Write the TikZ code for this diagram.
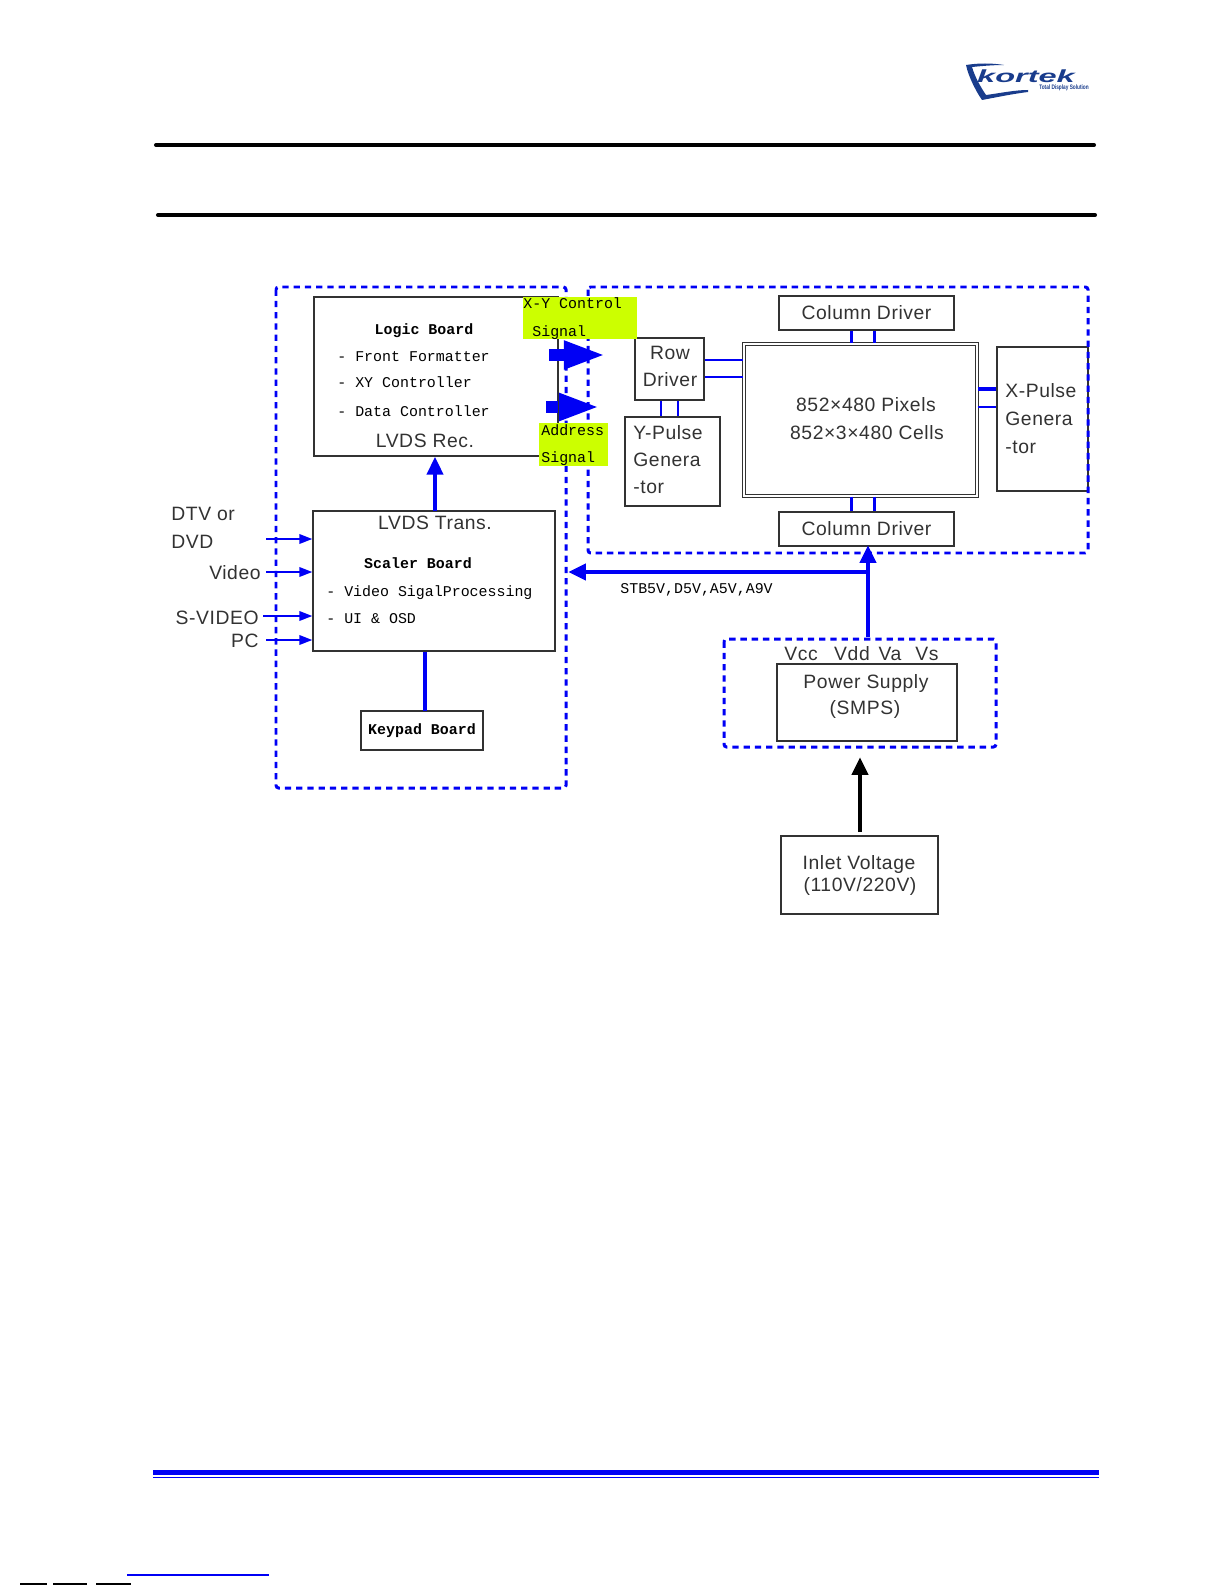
\documentclass[tikz,border=0pt]{standalone}
\usepackage{fontspec}
\usepackage{xcolor}
\usepackage{tikz}
\usetikzlibrary{arrows.meta, positioning}

\newfontfamily\lblfont[LetterSpace=3]{Liberation Sans}
\newfontfamily\monofont{Liberation Mono}
\newfontfamily\logofont{Liberation Sans}

\definecolor{busblue}{RGB}{0,0,245}
\definecolor{sigyellow}{RGB}{204,255,0}
\definecolor{inkgrey}{RGB}{50,50,50}
\definecolor{logoblue}{RGB}{25,60,140}

\tikzset{
    wd/.style={minimum width=#1*0.02cm},
    ht/.style={minimum height=#1*0.02cm},
    blackbox/.style={draw=inkgrey, line width=0.75pt, inner sep=0pt},
    dashbox/.style={draw=busblue, line width=1.7pt, dash pattern=on 3.6pt off 2.8pt, rounded corners=1.5pt},
    lbl/.style={inner sep=0pt, text=inkgrey, text height=7.9pt, text depth=0pt, font=\lblfont\fontsize{11}{13}\selectfont},
    code/.style={inner sep=0pt, text=black, text height=5.6pt, text depth=0pt, font=\monofont\fontsize{8.5}{10}\selectfont},
    codeb/.style={code, font=\monofont\bfseries\fontsize{8.5}{10}\selectfont},
    bus/.style={draw=busblue, line width=1.7pt},
    inarrow/.style={draw=busblue, line width=1.1pt, -{Triangle[length=7.4pt,width=5.4pt]}},
    railarrow/.style={draw=busblue, line width=2.6pt, -{Triangle[length=10.2pt,width=9pt]}},
    blockarrow/.style={draw=busblue, line width=6.8pt, -{Triangle[length=24pt,width=14.7pt]}}
}

\begin{document}
\begin{tikzpicture}[x=0.02cm, y=-0.02cm]
    \useasboundingbox (0,0) rectangle (1225,1585);

    % Draw logo
    \fill[logoblue] (966,65) .. controls (978,63) and (992,63) .. (1004,65)
        .. controls (993,65) and (982,66) .. (972,67)
        .. controls (975,77) and (980,86) .. (986,95)
        .. controls (1001,93) and (1015,90) .. (1028,90) -- (1028,92)
        .. controls (1012,94) and (998,97) .. (982,100)
        .. controls (975,90) and (968,75) .. (966,65) -- cycle;
    \node[inner sep=0pt, text=logoblue] (logoname) at (1026,76)
        {\scalebox{1.85}[1]{\logofont\bfseries\itshape\fontsize{10}{10}\selectfont kortek}};
    \node[inner sep=0pt, text=logoblue] (logotag) at (1064,88)
        {\scalebox{0.73}[1]{\logofont\bfseries\fontsize{3.7}{4}\selectfont Total Display Solution}};

    % Draw header and footer rules
    \draw[line width=2.3pt, line cap=round] (156,145) -- (1094,145);
    \draw[line width=2.3pt, line cap=round] (158,215) -- (1095,215);
    \fill[busblue] (153,1470) rectangle (1099,1475);
    \fill[busblue] (153,1477) rectangle (1099,1478.3);

    % Draw boards
    \node[blackbox, wd=244, ht=159] (logic) at (436,376.5) {};
    \node[blackbox, wd=242, ht=140] (scaler) at (434,581) {};
    \node[blackbox, wd=122, ht=39] (keypad) at (422,730.5) {\fontsize{8.5}{10}\monofont\bfseries Keypad Board};
    \node[blackbox, wd=175, ht=34, lbl, draw=inkgrey] (coltop) at (866.5,313) {Column Driver};
    \node[blackbox, wd=175, ht=34, lbl, draw=inkgrey] (colbot) at (866.5,529) {Column Driver};
    \node[blackbox, wd=69, ht=62] (row) at (669.5,369) {};
    \node[blackbox, wd=95, ht=89] (ypulse) at (672.5,461.5) {};
    \node[blackbox, wd=91, ht=144] (xpulse) at (1042.5,419) {};
    \node[blackbox, wd=180, ht=77] (power) at (867,702.5) {};
    \node[blackbox, wd=157, ht=78] (inlet) at (859.5,875) {};
    \node[draw=inkgrey, line width=0.65pt, double, double distance=0.9pt, inner sep=0pt, wd=233, ht=152] (panel) at (860.5,420) {};

    % Draw dashed groups
    \draw[dashbox] (276,287) rectangle (566,788);
    \draw[dashbox] (588,287) rectangle (1088,553);
    \draw[dashbox] (724,639) rectangle (996,747);

    % Draw signal arrows and highlights
    \coordinate (xyTail) at (549,355);
    \coordinate (xyTip) at (606,355);
    \coordinate (addrTail) at (546,407);
    \coordinate (addrTip) at (600,407);
    \draw[blockarrow] (addrTail) -- (addrTip);
    \draw[draw=inkgrey, line width=0.75pt] (logic.north east) -- (logic.south east);
    \draw[blockarrow] (xyTail) -- (xyTip);
    \fill[sigyellow] (523,297) rectangle (637,339);
    \fill[sigyellow] (539,423) rectangle (608,466);

    % Draw buses
    \foreach \bx in {851,874} {
        \coordinate (busC) at (\bx,0);
        \draw[bus] (busC |- coltop.south) -- (busC |- panel.north);
        \draw[bus] (busC |- panel.south) -- (busC |- colbot.north);
    }
    \foreach \by in {360,377} {
        \coordinate (busR) at (0,\by);
        \draw[bus] (busR -| row.east) -- (busR -| panel.west);
    }
    \foreach \bx in {661,678} {
        \coordinate (busY) at (\bx,0);
        \draw[bus, line width=1.2pt] (busY |- row.south) -- (busY |- ypulse.north);
    }
    \coordinate (busXa) at (0,389);
    \coordinate (busXb) at (0,407);
    \draw[bus, line width=2.4pt] (busXa -| panel.east) -- (busXa -| xpulse.west);
    \draw[bus] (busXb -| panel.east) -- (busXb -| xpulse.west);

    % Draw power rails
    \coordinate (pwrOut) at (868,637);
    \coordinate (railJoin) at (868,572);
    \coordinate (railEnd) at (568,572);
    \coordinate (colIn) at (868,545);
    \coordinate (psIn) at (860,757);
    \coordinate (inletTop) at (860,832);
    \coordinate (scalerTop) at (435,511);
    \coordinate (kpTop) at (425,711);
    \draw[railarrow] (pwrOut) -- (colIn);
    \draw[railarrow] (railJoin) -- (railEnd);
    \draw[railarrow, draw=black] (inletTop) -- (psIn);
    \draw[railarrow] (scalerTop) -- (scalerTop |- logic.south);
    \draw[bus, line width=1.8pt] (kpTop) -- (kpTop |- scaler.south);

    % Draw inputs
    \coordinate (inDtv) at (266,539);
    \coordinate (inVideo) at (266,572);
    \coordinate (inSvid) at (263,616);
    \coordinate (inPc) at (266,640);
    \draw[inarrow] (inDtv) -- (inDtv -| scaler.west);
    \draw[inarrow] (inVideo) -- (inVideo -| scaler.west);
    \draw[inarrow] (inSvid) -- (inSvid -| scaler.west);
    \draw[inarrow] (inPc) -- (inPc -| scaler.west);
    \node[lbl, anchor=west] (dtvor) at (171,514) {DTV or};
    \node[lbl, anchor=west] (dvd) at (171,542) {DVD};
    \node[lbl, anchor=east] (video) at (261,573) {Video};
    \node[lbl, anchor=east] (svideo) at (259,618) {S-VIDEO};
    \node[lbl, anchor=east] (pc) at (259,641) {PC};

    % Logic board text
    \node[codeb] (logicTitle) at (424,330) {Logic Board};
    \node[code, anchor=west] (logicA) at (337,357) {- Front Formatter};
    \node[code, anchor=west] (logicB) at (337,383) {- XY Controller};
    \node[code, anchor=west] (logicC) at (337,412) {- Data Controller};
    \node[lbl] (lvdsRec) at (425,441) {LVDS Rec.};
    \node[code, anchor=west] (xyA) at (523,304) {X-Y Control};
    \node[code, anchor=west] (xyB) at (532,332) {Signal};
    \node[code, anchor=west] (addrA) at (541,431) {Address};
    \node[code, anchor=west] (addrB) at (541,458) {Signal};

    % Scaler board text
    \node[lbl] (lvdsTrans) at (435,523) {LVDS Trans.};
    \node[codeb] (scalerTitle) at (418,564) {Scaler Board};
    \node[code, anchor=west] (scalerA) at (326,592) {- Video SigalProcessing};
    \node[code, anchor=west] (scalerB) at (326,619) {- UI \& OSD};

    % Panel side text
    \node[lbl] (rowA) at (670,353) {Row};
    \node[lbl] (rowB) at (670,380) {Driver};
    \node[lbl, anchor=west] (ypA) at (633,433) {Y-Pulse};
    \node[lbl, anchor=west] (ypB) at (633,460) {Genera};
    \node[lbl, anchor=west] (ypC) at (633,487) {-tor};
    \node[lbl] (panelA) at (866,405) {852×480 Pixels};
    \node[lbl] (panelB) at (867,433) {852×3×480 Cells};
    \node[lbl, anchor=west] (xpA) at (1005,391) {X-Pulse};
    \node[lbl, anchor=west] (xpB) at (1005,419) {Genera};
    \node[lbl, anchor=west] (xpC) at (1005,447) {-tor};

    % Power text
    \node[code, anchor=west] (railLbl) at (620,589) {STB5V,D5V,A5V,A9V};
    \node[lbl] (vcc) at (801,654) {Vcc};
    \node[lbl] (vdd) at (852,654) {Vdd};
    \node[lbl] (va) at (890,654) {Va};
    \node[lbl] (vs) at (927,654) {Vs};
    \node[lbl] (psA) at (866,682) {Power Supply};
    \node[lbl] (psB) at (865,708) {(SMPS)};
    \node[lbl] (inletA) at (859,863) {Inlet Voltage};
    \node[lbl] (inletB) at (860,885) {(110V/220V)};

    % Scan marks along the page foot
    \draw[busblue, line width=0.6pt] (127,1575) -- (269,1575);
    \draw[line width=0.8pt] (20,1584) -- (47,1584);
    \draw[line width=0.8pt] (53,1584) -- (87,1584);
    \draw[line width=0.8pt] (96,1584) -- (131,1584);
\end{tikzpicture}
\end{document}
